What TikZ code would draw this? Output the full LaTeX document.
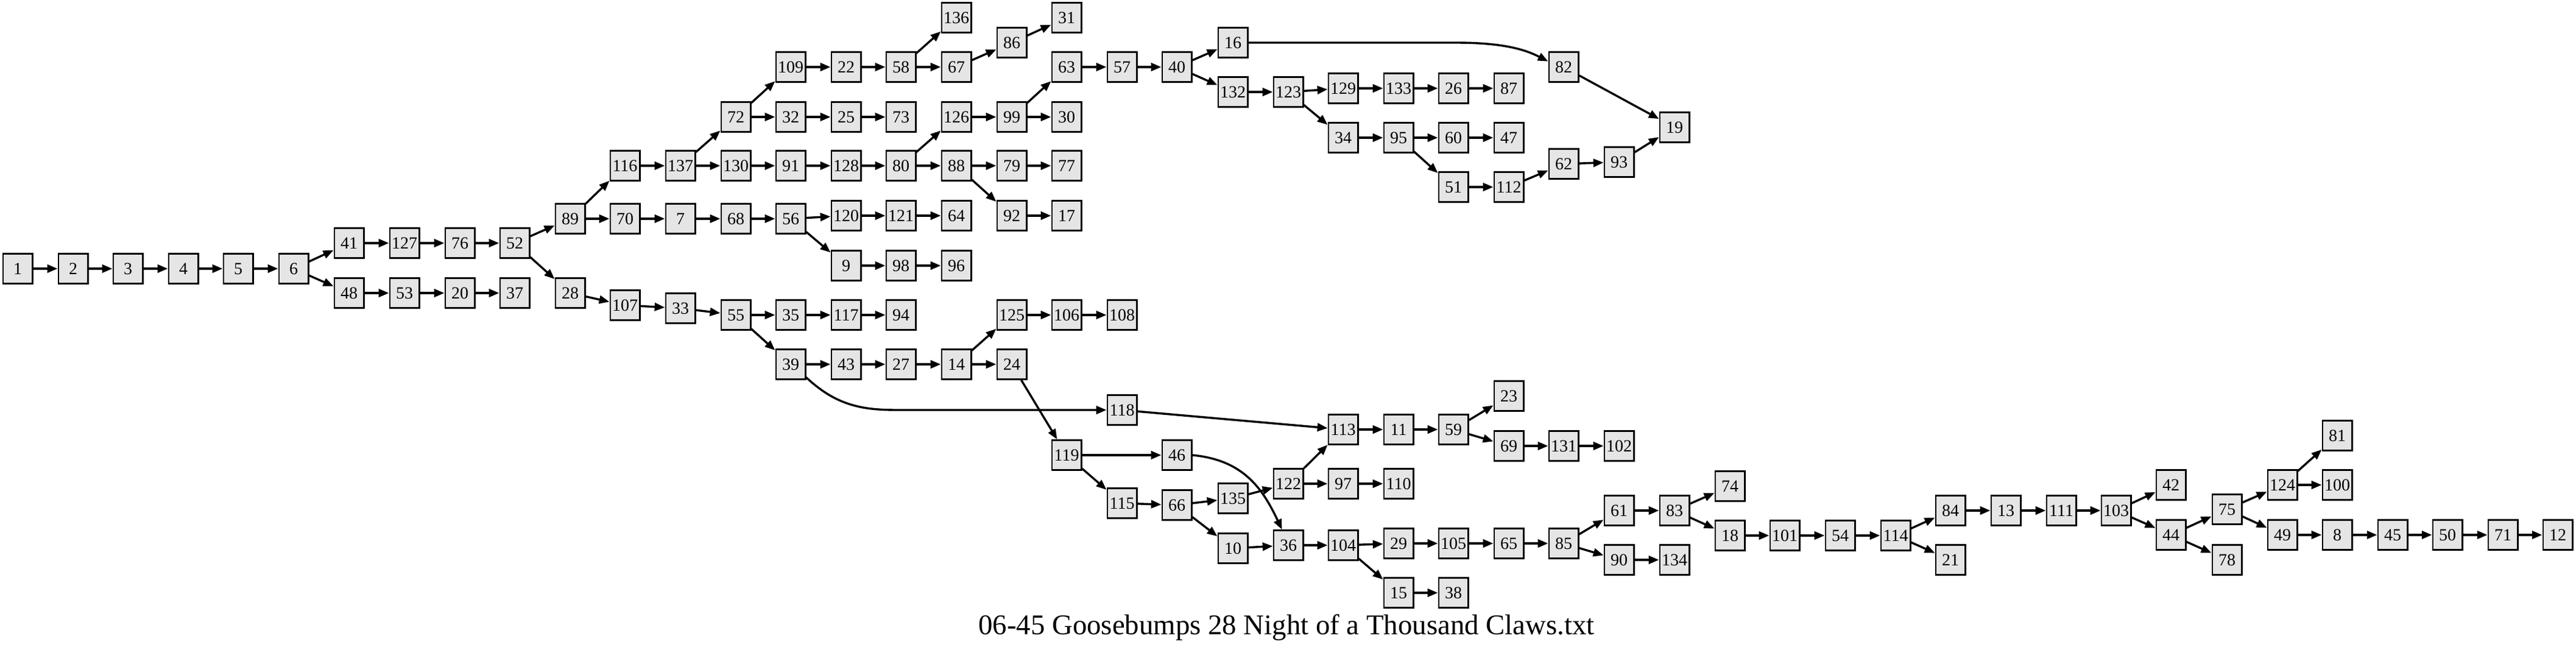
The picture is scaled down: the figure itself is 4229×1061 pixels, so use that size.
\documentclass[tikz,border=0pt]{standalone}
\usepackage{fontspec}
\setmainfont{Liberation Serif}
\usetikzlibrary{arrows.meta}
\definecolor{boxfill}{gray}{0.9}
\begin{document}
\begin{tikzpicture}[x=0.25pt,y=-0.25pt,
  box/.style={draw=black,fill=boxfill,line width=0.65pt,minimum width=12.1pt,minimum height=12.25pt,inner sep=0pt,font=\fontsize{7}{8}\selectfont},
  edge/.style={line width=0.85pt,-{Triangle[length=4.2pt,width=3.3pt]}}]
\useasboundingbox (0,0) rectangle (4229,1061);
% rank 0-5
\node[box] (n1) at (29,441) {1};
\node[box] (n2) at (120,441) {2};
\node[box] (n3) at (210,441) {3};
\node[box] (n4) at (301,441) {4};
\node[box] (n5) at (391,441) {5};
\node[box] (n6) at (482,441) {6};
\node[box] (n41) at (573,399) {41};
\node[box] (n48) at (573,481) {48};
\node[box] (n127) at (664,399) {127};
\node[box] (n53) at (664,481) {53};
\node[box] (n76) at (755,399) {76};
\node[box] (n20) at (755,481) {20};
\node[box] (n52) at (845,399) {52};
\node[box] (n37) at (845,481) {37};
\node[box] (n89) at (936,359) {89};
\node[box] (n28) at (936,481) {28};
\node[box] (n116) at (1026,272) {116};
\node[box] (n70) at (1026,359) {70};
\node[box] (n107) at (1026,501) {107};
\node[box] (n137) at (1117,272) {137};
\node[box] (n7) at (1117,359) {7};
\node[box] (n33) at (1117,506) {33};
\node[box] (n72) at (1208,192) {72};
\node[box] (n130) at (1208,272) {130};
\node[box] (n68) at (1208,359) {68};
\node[box] (n55) at (1208,517) {55};
\node[box] (n109) at (1298,110) {109};
\node[box] (n32) at (1298,192) {32};
\node[box] (n91) at (1298,272) {91};
\node[box] (n56) at (1298,359) {56};
\node[box] (n35) at (1298,517) {35};
\node[box] (n39) at (1298,598) {39};
\node[box] (n22) at (1389,110) {22};
\node[box] (n25) at (1389,192) {25};
\node[box] (n128) at (1389,272) {128};
\node[box] (n120) at (1389,354) {120};
\node[box] (n9) at (1389,436) {9};
\node[box] (n117) at (1389,517) {117};
\node[box] (n43) at (1389,598) {43};
\node[box] (n58) at (1479,110) {58};
\node[box] (n73) at (1479,192) {73};
\node[box] (n80) at (1479,272) {80};
\node[box] (n121) at (1479,354) {121};
\node[box] (n98) at (1479,436) {98};
\node[box] (n94) at (1479,517) {94};
\node[box] (n27) at (1479,598) {27};
\node[box] (n136) at (1570,29) {136};
\node[box] (n67) at (1570,110) {67};
\node[box] (n126) at (1570,192) {126};
\node[box] (n88) at (1570,272) {88};
\node[box] (n64) at (1570,354) {64};
\node[box] (n96) at (1570,436) {96};
\node[box] (n14) at (1570,598) {14};
\node[box] (n86) at (1661,70) {86};
\node[box] (n99) at (1661,192) {99};
\node[box] (n79) at (1661,272) {79};
\node[box] (n92) at (1661,354) {92};
\node[box] (n125) at (1661,517) {125};
\node[box] (n24) at (1661,598) {24};
\node[box] (n31) at (1751,29) {31};
\node[box] (n63) at (1751,110) {63};
\node[box] (n30) at (1751,192) {30};
\node[box] (n77) at (1751,272) {77};
\node[box] (n17) at (1751,354) {17};
\node[box] (n106) at (1751,517) {106};
\node[box] (n119) at (1751,747) {119};
\node[box] (n57) at (1842,110) {57};
\node[box] (n108) at (1842,517) {108};
\node[box] (n118) at (1842,673) {118};
\node[box] (n115) at (1842,826) {115};
\node[box] (n40) at (1932,110) {40};
\node[box] (n46) at (1932,747) {46};
\node[box] (n66) at (1932,829) {66};
\node[box] (n16) at (2024,70) {16};
\node[box] (n132) at (2024,151) {132};
\node[box] (n135) at (2024,818) {135};
\node[box] (n10) at (2024,900) {10};
\node[box] (n123) at (2115,151) {123};
\node[box] (n122) at (2115,794) {122};
\node[box] (n36) at (2115,895) {36};
\node[box] (n129) at (2205,145) {129};
\node[box] (n34) at (2205,226) {34};
\node[box] (n113) at (2205,705) {113};
\node[box] (n97) at (2205,794) {97};
\node[box] (n104) at (2205,895) {104};
\node[box] (n133) at (2296,145) {133};
\node[box] (n95) at (2296,226) {95};
\node[box] (n11) at (2296,705) {11};
\node[box] (n110) at (2296,794) {110};
\node[box] (n29) at (2296,892) {29};
\node[box] (n15) at (2296,973) {15};
\node[box] (n26) at (2386,145) {26};
\node[box] (n60) at (2386,226) {60};
\node[box] (n51) at (2386,307) {51};
\node[box] (n59) at (2386,705) {59};
\node[box] (n105) at (2386,892) {105};
\node[box] (n38) at (2386,973) {38};
\node[box] (n87) at (2477,145) {87};
\node[box] (n47) at (2477,226) {47};
\node[box] (n112) at (2477,307) {112};
\node[box] (n23) at (2477,650) {23};
\node[box] (n69) at (2477,732) {69};
\node[box] (n65) at (2477,892) {65};
\node[box] (n82) at (2567,110) {82};
\node[box] (n62) at (2567,269) {62};
\node[box] (n131) at (2567,732) {131};
\node[box] (n85) at (2567,892) {85};
\node[box] (n93) at (2658,266) {93};
\node[box] (n102) at (2658,732) {102};
\node[box] (n61) at (2658,838) {61};
\node[box] (n90) at (2658,919) {90};
\node[box] (n19) at (2749,209) {19};
\node[box] (n83) at (2749,838) {83};
\node[box] (n134) at (2749,919) {134};
\node[box] (n74) at (2840,798) {74};
\node[box] (n18) at (2840,879) {18};
\node[box] (n101) at (2930,879) {101};
\node[box] (n54) at (3021,879) {54};
\node[box] (n114) at (3112,879) {114};
\node[box] (n84) at (3202,838) {84};
\node[box] (n21) at (3202,919) {21};
\node[box] (n13) at (3293,838) {13};
\node[box] (n111) at (3384,838) {111};
\node[box] (n103) at (3474,838) {103};
\node[box] (n42) at (3564,796) {42};
\node[box] (n44) at (3564,878) {44};
\node[box] (n75) at (3656,836) {75};
\node[box] (n78) at (3656,919) {78};
\node[box] (n124) at (3747,796) {124};
\node[box] (n49) at (3747,878) {49};
\node[box] (n81) at (3837,715) {81};
\node[box] (n100) at (3837,796) {100};
\node[box] (n8) at (3837,878) {8};
\node[box] (n45) at (3928,878) {45};
\node[box] (n50) at (4018,878) {50};
\node[box] (n71) at (4109,878) {71};
\node[box] (n12) at (4199,878) {12};
% title
\node[anchor=base,inner sep=0pt,font=\fontsize{11.7}{14}\selectfont] (title) at (2112,1041) {06-45 Goosebumps 28 Night of a Thousand Claws.txt};
% straight edges
\foreach \a/\b in {1/2,2/3,3/4,4/5,5/6,6/41,6/48,41/127,127/76,76/52,52/89,52/28,48/53,53/20,20/37,
  89/116,89/70,28/107,116/137,70/7,107/33,137/72,137/130,72/109,72/32,109/22,22/58,58/136,58/67,
  67/86,86/31,32/25,25/73,130/91,91/128,128/80,80/126,80/88,126/99,99/63,99/30,63/57,57/40,40/16,
  40/132,82/19,132/123,123/129,123/34,129/133,133/26,26/87,34/95,95/60,60/47,95/51,51/112,112/62,
  62/93,93/19,88/79,79/77,88/92,92/17,7/68,68/56,56/120,120/121,121/64,56/9,9/98,98/96,33/55,
  55/35,35/117,117/94,55/39,39/43,43/27,27/14,14/125,125/106,106/108,14/24,24/119,118/113,
  119/46,119/115,115/66,66/135,66/10,135/122,122/113,122/97,97/110,10/36,36/104,104/29,104/15,
  15/38,29/105,105/65,65/85,85/61,85/90,90/134,61/83,83/74,83/18,18/101,101/54,54/114,114/84,
  114/21,84/13,13/111,111/103,103/42,103/44,44/75,44/78,75/124,75/49,124/81,124/100,49/8,8/45,
  45/50,50/71,71/12,113/11,11/59,59/23,59/69,69/131,131/102}
  \draw[edge] (n\a) -- (n\b);
% curved edges
\draw[edge] (n16.east) -- (2390,70) .. controls (2470,70) and (2505,82) .. (n82.160);
\draw[edge] (n39.-40) .. controls (1375,668) and (1420,673) .. (1475,673) -- (n118.west);
\draw[edge] (n46.east) .. controls (2040,755) and (2072,800) .. (n36.112);
\end{tikzpicture}
\end{document}
